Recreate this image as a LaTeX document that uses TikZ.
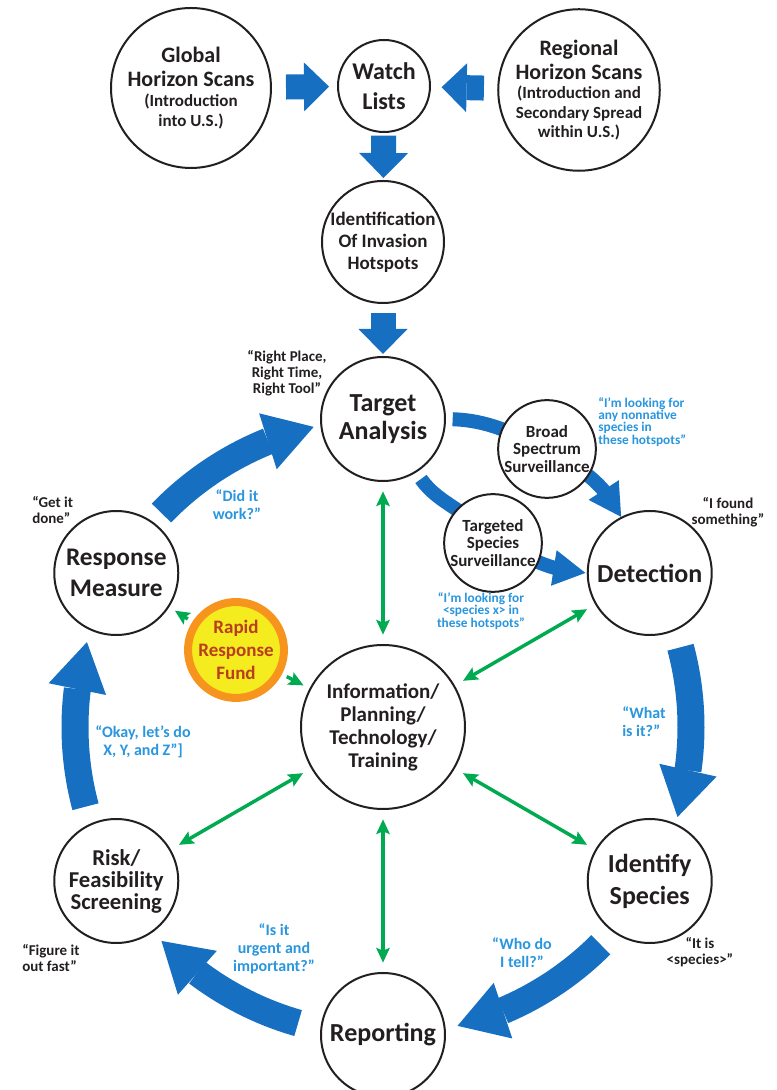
\documentclass[tikz,border=0pt]{standalone}
\usepackage{fontspec}
\setmainfont{Carlito}
\usetikzlibrary{arrows.meta,bending,backgrounds,calc}

\definecolor{ink}{RGB}{35,31,32}
\definecolor{flowblue}{RGB}{23,111,193}
\definecolor{askblue}{RGB}{41,150,222}
\definecolor{linkgreen}{RGB}{0,170,80}
\definecolor{fundorange}{RGB}{247,148,29}
\definecolor{fundyellow}{RGB}{244,236,30}
\definecolor{fundred}{RGB}{185,62,32}

\newcommand{\scannote}{\fontsize{12.75}{15}\selectfont}

\tikzstyle{stage} = [draw=ink, circle, fill=white, line width=1.5pt, align=center, inner sep=0pt, text=ink]
\tikzstyle{ringstage} = [stage, minimum size=93pt, font=\fontsize{19.5}{23}\selectfont\bfseries]
\tikzstyle{scanstage} = [stage, minimum size=120pt, font=\fontsize{16.5}{18}\selectfont\bfseries]
\tikzstyle{survstage} = [stage, minimum size=70.5pt, font=\fontsize{12.75}{13.2}\selectfont\bfseries]
\tikzstyle{fundstage} = [circle, draw=fundorange, fill=fundyellow, line width=6pt, minimum size=64pt, align=center, inner sep=0pt, text=fundred, font=\fontsize{14.25}{17.25}\selectfont\bfseries]
\tikzstyle{say} = [align=center, inner sep=0pt, text=ink, font=\fontsize{11.25}{12}\selectfont\bfseries]
\tikzstyle{ask} = [align=center, inner sep=0pt, text=askblue, font=\fontsize{12}{13.5}\selectfont\bfseries]
\tikzstyle{look} = [align=center, inner sep=0pt, text=askblue, font=\fontsize{10}{9.3}\selectfont\bfseries]
\tikzstyle{blockarrow} = [draw=flowblue, line width=18.75pt, -{Triangle[width=36.75pt,length=18.75pt,line width=0pt]}]
\tikzstyle{cycleflow} = [draw=flowblue, line width=20.25pt, -{Triangle[width=44pt,length=36pt,line width=0pt]}]
\tikzstyle{survarrow} = [draw=flowblue, line width=10.5pt, -{Triangle[width=27pt,length=24pt,line width=0pt]}]
\tikzstyle{linkarrow} = [draw=linkgreen, line width=2.6pt, {Stealth[length=11pt,width=10pt,inset=2pt]}-{Stealth[length=11pt,width=10pt,inset=2pt]}, shorten <=7pt, shorten >=7pt]
\tikzstyle{fundarrow} = [draw=linkgreen, line width=2.6pt, -{Stealth[length=11pt,width=10pt,inset=2pt]}, shorten <=4pt, shorten >=5pt]

\begin{document}
\begin{tikzpicture}[x=0.75pt, y=0.75pt]
	\useasboundingbox (0,0) rectangle (777,1090);

	% scans and watch lists
	\node[scanstage] (glob) at (191,1002) {Global\\Horizon Scans\\[-3pt]\scannote (Introduction\\[-3pt]\scannote into U.S.)};
	\node[stage, minimum size=69pt, font=\fontsize{18}{22.5}\selectfont\bfseries] (watch) at (384,1004) {Watch\\Lists};
	\node[scanstage] (regional) at (579,1000) {Regional\\Horizon Scans\\[-3.5pt]\scannote (Introduction and\\[-3.5pt]\scannote Secondary Spread\\[-3.5pt]\scannote within U.S.)};
	\node[stage, minimum size=91.5pt, font=\fontsize{14.25}{16.5}\selectfont\bfseries] (ident) at (383,848) {Identification\\Of Invasion\\Hotspots};

	% the cycle
	\node[stage, minimum size=123pt, font=\fontsize{15.75}{17.25}\selectfont\bfseries] (info) at (383,363) {Information/\\Planning/\\Technology/\\Training};
	\node[ringstage, font=\fontsize{19.5}{20.5}\selectfont\bfseries] (target) at ($(info)+(90:308)$) {Target\\Analysis};
	\node[ringstage] (det) at ($(info)+(30:308)$) {Detection};
	\node[ringstage, font=\fontsize{19.5}{24}\selectfont\bfseries] (species) at ($(info)+(-30:308)$) {Identify\\Species};
	\node[ringstage] (report) at ($(info)+(-90:308)$) {Reporting};
	\node[ringstage, font=\fontsize{17}{16.5}\selectfont\bfseries] (risk) at ($(info)+(-150:308)$) {Risk/\\Feasibility\\Screening};
	\node[ringstage, font=\fontsize{19}{23.25}\selectfont\bfseries] (resp) at ($(info)+(150:308)$) {Response\\Measure};

	\node[survstage] (broad) at (547,641) {Broad\\Spectrum\\Surveillance};
	\node[survstage] (targ) at (493,547) {Targeted\\Species\\Surveillance};
	\node[fundstage] (rapid) at (236,440) {Rapid\\Response\\Fund};

	% quotes
	\node[say] (place) at (287,717) {“Right Place,\\Right Time,\\Right Tool”};
	\node[look, anchor=north west, align=left] (anyq) at (598,693) {“I’m looking for\\any nonnative\\species in\\these hotspots”};
	\node[say] (found) at (728,578) {“I found\\something”};
	\node[look] (speciesq) at (481,479) {“I’m looking for\\<species x> in\\these hotspots”};
	\node[say, anchor=west, align=left] (done) at (32,580) {“Get it\\done”};
	\node[ask] (work) at (237,585) {“Did it\\work?”};
	\node[ask, anchor=west, align=left] (what) at (622,368) {“What\\is it?”};
	\node[ask] (okay) at (143,348) {“Okay, let’s do\\X, Y, and Z”]};
	\node[say, anchor=west, align=left] (fast) at (22,132) {“Figure it\\out fast”};
	\node[say] (itis) at (700,138) {“It is\\<species>”};
	\node[ask] (tell) at (522,137) {“Who do\\I tell?”};
	\node[ask] (urgent) at (274,141) {“Is it\\urgent and\\important?”};

	\begin{pgfonlayer}{background}
		\draw[blockarrow, shorten <=10.5pt, shorten >=6pt] (glob) -- (watch);
		\draw[blockarrow, shorten <=10pt, shorten >=8pt] (regional) -- (watch);
		\draw[blockarrow, shorten <=2pt, shorten >=1.5pt] (watch) -- (ident);
		\draw[blockarrow, shorten <=7pt, shorten >=1.5pt] (ident) -- (target);

		\draw[cycleflow] ($(info)+(136:308)$) arc[start angle=136, end angle=103, radius=231pt];
		\draw[cycleflow] ($(info)+(15:308)$) arc[start angle=15, end angle=-17, radius=231pt];
		\draw[cycleflow] ($(info)+(-45:308)$) arc[start angle=-45, end angle=-76, radius=231pt];
		\draw[cycleflow] ($(info)+(-106:308)$) arc[start angle=-106, end angle=-136, radius=231pt];
		\draw[cycleflow] ($(info)+(195:308)$) arc[start angle=195, end angle=164, radius=231pt];

		\draw[survarrow, shorten <=5pt] (target.east) to[out=-2,in=155] (broad.center) to[out=-30,in=117] (det.117);
		\draw[survarrow, shorten <=6pt, shorten >=1pt] (target.-58) to[out=-55,in=125] (targ.center) to[out=-20,in=178] (det.west);
	\end{pgfonlayer}

	\draw[linkarrow] (info) -- (target);
	\draw[linkarrow] (info) -- (det);
	\draw[linkarrow] (info) -- (species);
	\draw[linkarrow] (info) -- (report);
	\draw[linkarrow] (info) -- (risk);
	\draw[fundarrow] (rapid) -- (resp);
	\draw[fundarrow] (rapid) -- (info);
\end{tikzpicture}
\end{document}
